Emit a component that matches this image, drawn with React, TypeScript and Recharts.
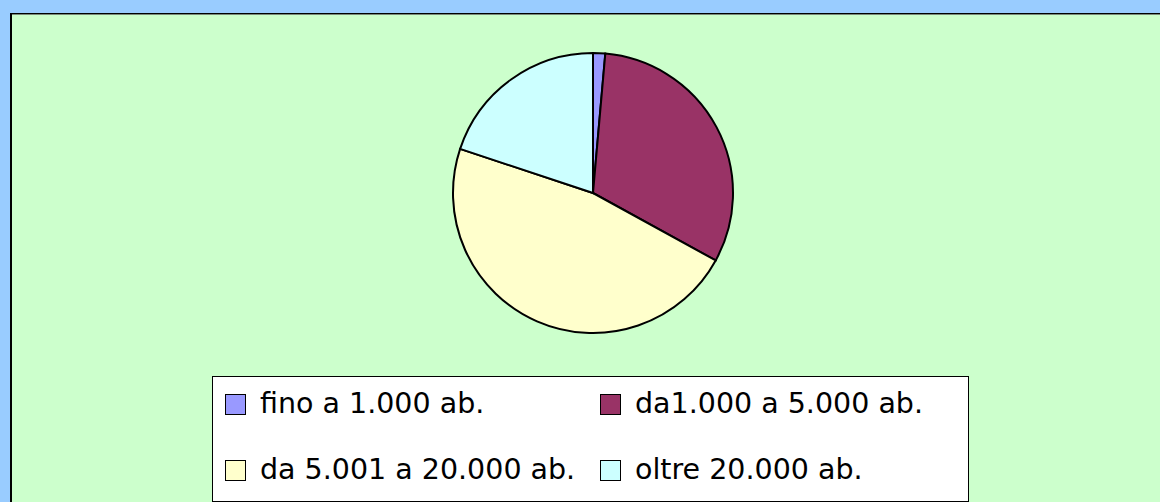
import React from 'react';
import { PieChart, Pie, Cell, Legend } from 'recharts';

const categories = ['fino a 1.000 ab.', 'da1.000 a 5.000 ab.', 'da 5.001 a 20.000 ab.', 'oltre 20.000 ab.'];
const shares = [1.4, 31.6, 47.1, 19.9];
const colors = ['#9999ff', '#993366', '#ffffcc', '#ccffff'];

const data = categories.map((name, i) => ({ name, value: shares[i] }));

// legend slots: two columns, two rows
const colX = [12, 387];
const rowY = [16, 82];

// own order, recharts sorts the payload
const renderLegend = () => (
    <div style={{ position: 'relative', width: '100%', height: '100%' }}>
        {categories.map((name, i) => (
            <div key={name} style={{
                position: 'absolute',
                left: colX[i % 2],
                top: rowY[Math.floor(i / 2)],
                display: 'flex',
                alignItems: 'center',
                whiteSpace: 'nowrap'
            }}>
                <span style={{
                    display: 'inline-block',
                    width: 19,
                    height: 19,
                    border: '1px solid #000',
                    background: colors[i],
                    marginRight: 14
                }} />
                <span style={{ fontSize: 28.5, color: '#000', lineHeight: '22px' }}>{name}</span>
            </div>
        ))}
    </div>
);

export default function App() {
    return (
        <div style={{
            position: 'fixed', left: 0, top: 0, width: 1160, height: 502,
            background: '#99ccff', overflow: 'hidden', fontFamily: '"DejaVu Sans", sans-serif'
        }}>
            {/* green plot panel, runs off the right and bottom edges */}
            <div style={{
                position: 'absolute', left: 10, top: 13, width: 1170, height: 510,
                background: '#ccffcc', borderTop: '1px solid #000', borderLeft: '2px solid #000',
                boxShadow: 'inset 0 1px 0 #7a8a7a'
            }} />
            <div style={{ position: 'absolute', left: 0, top: 0 }}>
                <PieChart width={1160} height={502} margin={{ top: 0, right: 0, bottom: 0, left: 0 }}>
                    <Pie
                        data={data}
                        dataKey="value"
                        nameKey="name"
                        cx={593}
                        cy={193}
                        outerRadius={140}
                        startAngle={90}
                        endAngle={-270}
                        stroke="#000"
                        strokeWidth={2}
                        isAnimationActive={false}
                    >
                        {data.map((d, i) => <Cell key={d.name} fill={colors[i]} />)}
                    </Pie>
                    <Legend
                        content={renderLegend}
                        wrapperStyle={{
                            left: 212, top: 376, width: 755, height: 124,
                            background: '#fff', border: '1px solid #000', boxSizing: 'content-box'
                        }}
                    />
                </PieChart>
            </div>
        </div>
    );
}
